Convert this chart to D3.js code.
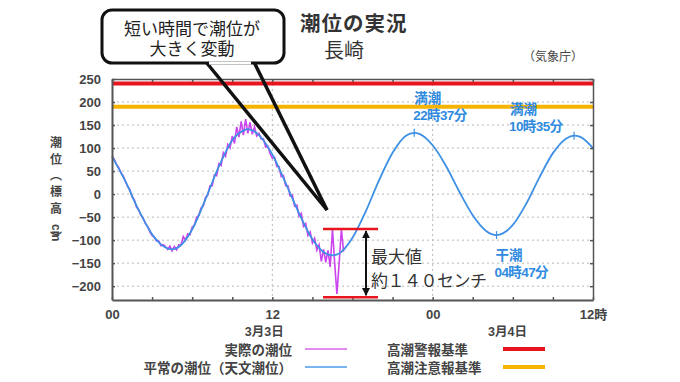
<!DOCTYPE html>
<html><head><meta charset="utf-8">
<script src="https://cdn.jsdelivr.net/npm/d3@7"></script>
<style>
html,body{margin:0;padding:0;background:#fff;}
svg{display:block;font-family:"Liberation Sans","Noto Sans CJK JP",sans-serif;}
</style></head>
<body>
<svg id="chart" width="680" height="382"></svg>
<script>
// ---- data ----
const astroHours  = [0,1,2,3,4,4.5,5,6,7,8,9,10,10.1,11,12,13,14,15,16,16.5,17,18,19,20,21,22,22.62,23,24,25,26,27,28,28.78,29,30,31,32,33,34,34.58,35,36];
const astroValues = [82,28,-35,-87,-116,-120,-115,-77,-11,60,117,140,141,128,86,24,-42,-98,-129,-133,-129,-95,-37,31,90,127,133,131,106,61,5,-46,-80,-89,-88,-67,-21,37,89,121,127,125,100];
// observed tide, 10-minute steps starting 00:00
const obsStepMinutes = 10;
const obsValues = [
  82,76,64,58,46,40,
  28,17,10,-6,-12,-28,
  -34,-46,-52,-64,-70,-82,
  -90,-94,-102,-102,-112,-110,
  -114,-120,-113,-123,-114,-121,
  -110,-110,-92,-100,-86,-88,
  -72,-68,-50,-46,-30,-26,
  -7,-2,18,18,42,40,
  66,62,90,82,108,100,
  126,110,146,124,158,128,
  163,132,156,130,146,126,
  132,120,120,102,104,88,
  78,80,60,60,38,40,
  18,18,-4,-2,-26,-24,
  -48,-42,-70,-64,-90,-82,
  -106,-96,-122,-110,-146,-120,
  -148,-122,-158,-76,-150,-217,
  -150,-76,-125
];
const warningLevel = 240;   // 高潮警報基準
const advisoryLevel = 190;  // 高潮注意報基準
const maxRangeTop = -76, maxRangeBottom = -224;
const yTicks = [-200,-150,-100,-50,0,50,100,150,200,250];
const xTicks = [0,3,6,9,12,15,18,21,24,27,30,33,36];
const xTickLabels = {0:"00",12:"12",24:"00",36:"12時"};
const dateLabels = [{h:11.4,t:"3月3日"},{h:29.6,t:"3月4日"}];
const tideMarks = [
  {h:22.62,v:133,l1:"満潮",l2:"22時37分",dx:0,dy:-30},
  {h:34.58,v:127,l1:"満潮",l2:"10時35分",dx:-64,dy:-22},
  {h:28.78,v:-89,l1:"干潮",l2:"04時47分",dx:-1,dy:25}
];

// ---- scales ----
const svg = d3.select("#chart");
const x = d3.scaleLinear().domain([0,36]).range([112,593]);
const y = d3.scaleLinear().domain([-230,250]).range([300,79]);
const X0=x(0), X1=x(36), Y0=y(-230), Y1=y(250);

// grid
svg.append("g").selectAll("line").data(yTicks.filter(d=>d<250)).join("line")
  .attr("x1",X0).attr("x2",X1).attr("y1",d=>y(d)).attr("y2",d=>y(d))
  .attr("stroke","#b8b8b8").attr("stroke-width",1).attr("stroke-dasharray","2,3");
svg.append("g").selectAll("line").data([12,24]).join("line")
  .attr("x1",d=>x(d)).attr("x2",d=>x(d)).attr("y1",Y1).attr("y2",Y0)
  .attr("stroke","#b8b8b8").attr("stroke-width",1).attr("stroke-dasharray","2,3");

// thresholds
svg.append("line").attr("x1",X0).attr("x2",X1).attr("y1",y(advisoryLevel)).attr("y2",y(advisoryLevel))
  .attr("stroke","#f6b300").attr("stroke-width",4);
svg.append("line").attr("x1",X0).attr("x2",X1).attr("y1",y(warningLevel)).attr("y2",y(warningLevel))
  .attr("stroke","#e8141e").attr("stroke-width",4);

// observed
const obsPts = obsValues.map((v,i)=>[i*obsStepMinutes/60, v]);
svg.append("path").datum(obsPts)
  .attr("fill","none").attr("stroke","#cc44ee").attr("stroke-width",1.6)
  .attr("d", d3.line().x(d=>x(d[0])).y(d=>y(d[1])));
// astronomical
const astroPts = astroHours.map((h,i)=>[h, astroValues[i]]);
svg.append("path").datum(astroPts)
  .attr("fill","none").attr("stroke","#3d90e4").attr("stroke-width",1.8)
  .attr("d", d3.line().curve(d3.curveMonotoneX).x(d=>x(d[0])).y(d=>y(d[1])));
// tide markers
svg.append("g").selectAll("line").data(tideMarks).join("line")
  .attr("x1",d=>x(d.h)).attr("x2",d=>x(d.h)).attr("y1",d=>y(d.v)-4).attr("y2",d=>y(d.v)+4)
  .attr("stroke","#3d90e4").attr("stroke-width",1.2);
const tm = svg.append("g").selectAll("g").data(tideMarks).join("g")
  .attr("transform",d=>`translate(${x(d.h)+d.dx},${y(d.v)+d.dy})`)
  .attr("fill","#2f8ae0").attr("font-weight","700").attr("font-size",13.5);
tm.append("text").attr("x",0).attr("y",0).text(d=>d.l1);
tm.append("text").attr("x",-1).attr("y",17).attr("letter-spacing",-0.6).text(d=>d.l2);

// axes
const axisColor="#555";
const gL = svg.append("g").attr("transform",`translate(${X0},0)`)
  .call(d3.axisLeft(y).tickValues(yTicks).tickSizeInner(-3).tickSizeOuter(0).tickPadding(11));
const gR = svg.append("g").attr("transform",`translate(${X1},0)`)
  .call(d3.axisRight(y).tickValues(yTicks).tickSizeInner(-3).tickSizeOuter(0).tickFormat(""));
const gB = svg.append("g").attr("transform",`translate(0,${Y0})`)
  .call(d3.axisBottom(x).tickValues(xTicks).tickSizeInner(-3).tickSizeOuter(0).tickPadding(12)
  .tickFormat(d=>xTickLabels[d]||""));
const gT = svg.append("g").attr("transform",`translate(0,${Y1})`)
  .call(d3.axisTop(x).tickValues(xTicks).tickSizeInner(-3).tickSizeOuter(0).tickFormat(""));
[gL,gR,gB,gT].forEach(g=>{
  g.select(".domain").attr("stroke",axisColor).attr("stroke-width",1.5);
  g.selectAll(".tick line").attr("stroke",axisColor).attr("stroke-width",1.5);
  g.selectAll("text").attr("fill","#444").attr("font-weight","700").attr("font-size",13)
    .attr("font-family","'Liberation Sans','Noto Sans CJK JP',sans-serif");
});
gL.select(".domain").attr("stroke-width",2);
gB.select(".domain").attr("stroke-width",2);
gB.selectAll("text").attr("dy","0.5em");

svg.append("g").selectAll("text").data(dateLabels).join("text")
  .attr("x",d=>x(d.h)).attr("y",336).attr("text-anchor","middle")
  .attr("fill","#444").attr("font-weight","700").attr("font-size",12.5).text(d=>d.t);

// y axis title (vertical)
const yTitle = [{t:"潮",y:147},{t:"位",y:164},{t:"︵",y:180},{t:"標",y:196},{t:"高",y:213},{t:"︶",y:242}];
svg.append("g").selectAll("text").data(yTitle).join("text")
  .attr("x",56).attr("y",d=>d.y).attr("text-anchor","middle")
  .attr("fill","#444").attr("font-weight","700").attr("font-size",12).text(d=>d.t);
svg.append("text").attr("transform","translate(52,224) rotate(90)")
  .attr("fill","#444").attr("font-weight","700").attr("font-size",12).text("cm");

// titles
svg.append("text").attr("x",300).attr("y",31).attr("font-size",20.5).attr("font-weight","700")
  .attr("fill","#333").attr("letter-spacing",1).text("潮位の実況");
svg.append("text").attr("x",324).attr("y",58).attr("font-size",20).attr("fill","#333").text("長崎");
svg.append("text").attr("x",523).attr("y",61).attr("font-size",12).attr("fill","#444").text("（気象庁）");

// max range annotation
[maxRangeTop,maxRangeBottom].forEach(v=>{
  svg.append("line").attr("x1",323).attr("x2",378).attr("y1",y(v)).attr("y2",y(v))
    .attr("stroke","#e8141e").attr("stroke-width",2.5);
});
const defs = svg.append("defs");
defs.append("marker").attr("id","ah").attr("viewBox","0 0 10 10").attr("refX",9).attr("refY",5)
  .attr("markerWidth",4).attr("markerHeight",4).attr("orient","auto-start-reverse")
  .append("path").attr("d","M0,0 L10,5 L0,10 z").attr("fill","#111");
svg.append("line").attr("x1",366).attr("x2",366).attr("y1",y(maxRangeTop)+2).attr("y2",y(maxRangeBottom)-2)
  .attr("stroke","#111").attr("stroke-width",2)
  .attr("marker-start","url(#ah)").attr("marker-end","url(#ah)");
svg.append("text").attr("x",371).attr("y",263).attr("font-size",17).attr("fill","#333").text("最大値");
svg.append("text").attr("x",371).attr("y",287).attr("font-size",17).attr("fill","#333").attr("letter-spacing",-0.5).text("約１４０センチ");

// callout
svg.append("line").attr("x1",206).attr("y1",62).attr("x2",327).attr("y2",210).attr("stroke","#111").attr("stroke-width",3.5);
svg.append("line").attr("x1",254).attr("y1",62).attr("x2",327).attr("y2",210).attr("stroke","#111").attr("stroke-width",3.5);
svg.append("rect").attr("x",102).attr("y",10).attr("width",182).attr("height",53).attr("rx",10)
  .attr("fill","#fff").attr("stroke","#111").attr("stroke-width",3);
svg.append("line").attr("x1",209).attr("y1",63).attr("x2",251).attr("y2",63).attr("stroke","#fff").attr("stroke-width",3.2);
svg.append("text").attr("x",192).attr("y",35).attr("text-anchor","middle").attr("font-size",17).attr("fill","#222").text("短い時間で潮位が");
svg.append("text").attr("x",192).attr("y",55).attr("text-anchor","middle").attr("font-size",17).attr("fill","#222").text("大きく変動");

// legend
const legend = [
  {t:"実際の潮位",x:292,y:355,c:"#e38cf0",w:2,lx:305},
  {t:"平常の潮位（天文潮位）",x:292,y:373,c:"#78b4ee",w:2,lx:305},
  {t:"高潮警報基準",x:387,y:355,c:"#e8141e",w:4,lx:503,start:true},
  {t:"高潮注意報基準",x:387,y:373,c:"#f6b300",w:4,lx:503,start:true}
];
const lg = svg.append("g").selectAll("g").data(legend).join("g");
lg.append("text").attr("x",d=>d.x).attr("y",d=>d.y).attr("text-anchor",d=>d.start?"start":"end")
  .attr("font-size",13.5).attr("font-weight","700").attr("fill","#444").text(d=>d.t);
lg.append("line").attr("x1",d=>d.lx).attr("x2",d=>d.lx+42).attr("y1",d=>d.y-6).attr("y2",d=>d.y-6)
  .attr("stroke",d=>d.c).attr("stroke-width",d=>d.w);
</script>
</body></html>
